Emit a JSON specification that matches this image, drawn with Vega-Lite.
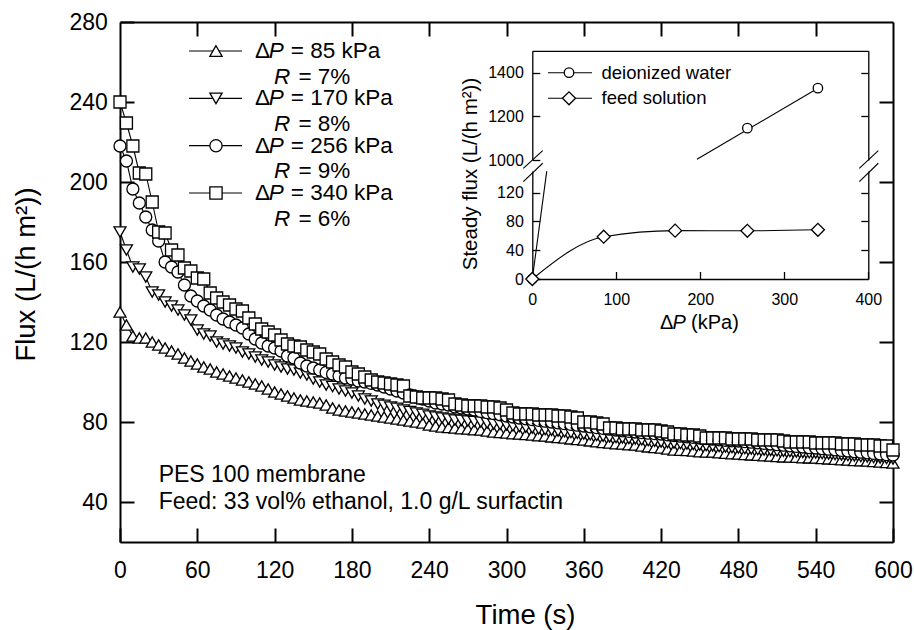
{
"$schema": "https://vega.github.io/schema/vega-lite/v6.json",
"width": 773, "height": 520,
"autosize": {"type": "none"},
"padding": {"left": 120, "top": 22, "right": 21, "bottom": 88},
"background": "white",
"config": {
 "view": {"stroke": null},
 "axis": {"grid": false, "labelFont": "Liberation Sans", "titleFont": "Liberation Sans", "labelColor": "black", "titleColor": "black", "domainColor": "black", "tickColor": "black", "labelFlush": false, "labelOverlap": false, "titleFontWeight": "normal", "format": "d"},
 "text": {"font": "Liberation Sans", "color": "black"}
},
"datasets": {
 "flux": [
{"t":0,"a":135,"b":175,"c":218,"d":240},
{"t":5,"a":128.5,"b":166,"c":210.5,"d":229.5},
{"t":10,"a":123,"b":157.5,"c":196.5,"d":218},
{"t":15,"a":122,"b":156.5,"c":189.5,"d":204.5},
{"t":20,"a":122,"b":152.5,"c":182.5,"d":204},
{"t":25,"a":120,"b":145,"c":176,"d":190},
{"t":30,"a":118.5,"b":143.5,"c":170.5,"d":175},
{"t":35,"a":117,"b":140,"c":160,"d":174.5},
{"t":40,"a":115.5,"b":138,"c":157.5,"d":166},
{"t":45,"a":114,"b":136,"c":155,"d":163.5},
{"t":50,"a":112,"b":133.5,"c":148.5,"d":157},
{"t":55,"a":110.5,"b":131,"c":143,"d":155.5},
{"t":60,"a":109,"b":126,"c":140.5,"d":152},
{"t":65,"a":107.5,"b":124,"c":138,"d":151.5},
{"t":70,"a":106.5,"b":123,"c":136,"d":144.5},
{"t":75,"a":105,"b":120,"c":133.5,"d":142},
{"t":80,"a":104,"b":119,"c":131.5,"d":140},
{"t":85,"a":103,"b":118,"c":130,"d":138.5},
{"t":90,"a":102,"b":117,"c":128.5,"d":136.5},
{"t":95,"a":101,"b":115,"c":127,"d":135.5},
{"t":100,"a":100,"b":114,"c":124,"d":132},
{"t":105,"a":99,"b":112.5,"c":121.5,"d":129},
{"t":110,"a":98,"b":111,"c":119.5,"d":126.5},
{"t":115,"a":96.5,"b":110,"c":118,"d":125},
{"t":120,"a":95,"b":108.5,"c":117,"d":123.5},
{"t":125,"a":94,"b":107.5,"c":115.5,"d":121},
{"t":130,"a":93,"b":106.5,"c":113,"d":119},
{"t":135,"a":92,"b":106,"c":112,"d":118},
{"t":140,"a":91,"b":104.5,"c":109.5,"d":117.5},
{"t":145,"a":90.5,"b":103.5,"c":108,"d":116},
{"t":150,"a":90,"b":101.5,"c":107,"d":115},
{"t":155,"a":89.5,"b":100,"c":106,"d":114},
{"t":160,"a":88.5,"b":98.5,"c":104.8,"d":111.5},
{"t":165,"a":87,"b":97.7,"c":104,"d":110},
{"t":170,"a":86,"b":96.5,"c":103,"d":108.5},
{"t":175,"a":85.5,"b":95.5,"c":102,"d":107.5},
{"t":180,"a":85,"b":94.5,"c":101.5,"d":105},
{"t":185,"a":84.5,"b":93,"c":100.5,"d":104},
{"t":190,"a":84,"b":91.5,"c":100,"d":102.5},
{"t":195,"a":83.5,"b":90.5,"c":99.3,"d":101},
{"t":200,"a":83,"b":89,"c":98.5,"d":100},
{"t":205,"a":82.5,"b":88.3,"c":97.5,"d":99.5},
{"t":210,"a":82,"b":87.5,"c":96.5,"d":99},
{"t":215,"a":81.5,"b":86.8,"c":95.5,"d":98.5},
{"t":220,"a":81,"b":86,"c":94.5,"d":98},
{"t":225,"a":80.5,"b":85.2,"c":93.5,"d":93},
{"t":230,"a":80,"b":84.5,"c":92.5,"d":92.5},
{"t":235,"a":79.5,"b":83.8,"c":91.5,"d":92},
{"t":240,"a":78.5,"b":83,"c":90.5,"d":92},
{"t":245,"a":78,"b":82.5,"c":89.5,"d":92},
{"t":250,"a":77.5,"b":82,"c":89,"d":91.5},
{"t":255,"a":77.3,"b":81.5,"c":88.5,"d":91},
{"t":260,"a":77,"b":81,"c":87.5,"d":89},
{"t":265,"a":76.7,"b":80.8,"c":87,"d":88.5},
{"t":270,"a":76.5,"b":80.5,"c":86.5,"d":88},
{"t":275,"a":76.2,"b":80.2,"c":86,"d":88},
{"t":280,"a":76,"b":80,"c":85.3,"d":88},
{"t":285,"a":75.5,"b":79.5,"c":84.7,"d":87.5},
{"t":290,"a":75,"b":79,"c":84.2,"d":87.5},
{"t":295,"a":74.8,"b":78.8,"c":83.6,"d":87},
{"t":300,"a":74.5,"b":78.5,"c":83,"d":86},
{"t":305,"a":74.2,"b":78.1,"c":82.5,"d":84.5},
{"t":310,"a":74,"b":77.8,"c":82,"d":84},
{"t":315,"a":73.8,"b":77.4,"c":81.6,"d":84},
{"t":320,"a":73.5,"b":77,"c":81.2,"d":84},
{"t":325,"a":73.2,"b":76.6,"c":80.8,"d":83.5},
{"t":330,"a":73,"b":76.2,"c":80.4,"d":83.5},
{"t":335,"a":72.6,"b":75.9,"c":80,"d":83.5},
{"t":340,"a":72.3,"b":75.5,"c":79.6,"d":83},
{"t":345,"a":72,"b":75.1,"c":79.2,"d":83},
{"t":350,"a":71.6,"b":74.7,"c":78.8,"d":82.5},
{"t":355,"a":71.3,"b":74.4,"c":78.4,"d":82},
{"t":360,"a":71,"b":74,"c":78,"d":80},
{"t":365,"a":70.6,"b":73.6,"c":77.6,"d":80},
{"t":370,"a":70.2,"b":73.2,"c":77.2,"d":79.5},
{"t":375,"a":69.8,"b":72.9,"c":76.8,"d":79},
{"t":380,"a":69.5,"b":72.5,"c":76.4,"d":77},
{"t":385,"a":69.2,"b":72.2,"c":76,"d":77},
{"t":390,"a":69,"b":72,"c":75.6,"d":76.5},
{"t":395,"a":68.7,"b":71.8,"c":75.3,"d":76.5},
{"t":400,"a":68.5,"b":71.5,"c":75,"d":76.5},
{"t":405,"a":68,"b":71.1,"c":74.7,"d":76},
{"t":410,"a":67.6,"b":70.7,"c":74.4,"d":76},
{"t":415,"a":67.3,"b":70.4,"c":74.2,"d":76},
{"t":420,"a":67,"b":70,"c":74,"d":75.5},
{"t":425,"a":66.5,"b":69.8,"c":73.6,"d":75},
{"t":430,"a":66,"b":69.5,"c":73.2,"d":74},
{"t":435,"a":65.9,"b":69.2,"c":72.9,"d":74},
{"t":440,"a":65.8,"b":69,"c":72.6,"d":73.5},
{"t":445,"a":65.5,"b":68.8,"c":72.3,"d":73.5},
{"t":450,"a":65.2,"b":68.5,"c":72,"d":73},
{"t":455,"a":65,"b":68.2,"c":71.7,"d":72},
{"t":460,"a":65,"b":68,"c":71.4,"d":72},
{"t":465,"a":64.7,"b":67.7,"c":71.1,"d":72},
{"t":470,"a":64.4,"b":67.5,"c":70.8,"d":72},
{"t":475,"a":64.2,"b":67.2,"c":70.6,"d":71.5},
{"t":480,"a":64,"b":67,"c":70.5,"d":71.5},
{"t":485,"a":63.8,"b":66.7,"c":70.2,"d":71.5},
{"t":490,"a":63.6,"b":66.5,"c":69.9,"d":71.5},
{"t":495,"a":63.4,"b":66.2,"c":69.6,"d":71},
{"t":500,"a":63.2,"b":66,"c":69.3,"d":71},
{"t":505,"a":63,"b":65.8,"c":69,"d":71},
{"t":510,"a":62.8,"b":65.6,"c":68.7,"d":71},
{"t":515,"a":62.6,"b":65.4,"c":68.4,"d":70.5},
{"t":520,"a":62.5,"b":65.2,"c":68.1,"d":70},
{"t":525,"a":62.4,"b":65,"c":67.8,"d":70},
{"t":530,"a":62.2,"b":64.8,"c":67.5,"d":70},
{"t":535,"a":62.1,"b":64.6,"c":67.2,"d":70},
{"t":540,"a":62,"b":64.5,"c":67,"d":69.5},
{"t":545,"a":61.8,"b":64.2,"c":66.7,"d":69.5},
{"t":550,"a":61.6,"b":64,"c":66.4,"d":69.5},
{"t":555,"a":61.4,"b":63.7,"c":66.1,"d":69.5},
{"t":560,"a":61.2,"b":63.5,"c":65.8,"d":69},
{"t":565,"a":61,"b":63.2,"c":65.5,"d":69},
{"t":570,"a":60.8,"b":63,"c":65.2,"d":69},
{"t":575,"a":60.7,"b":62.7,"c":64.9,"d":68.5},
{"t":580,"a":60.5,"b":62.5,"c":64.6,"d":68.5},
{"t":585,"a":60.3,"b":62.2,"c":64.3,"d":68.5},
{"t":590,"a":60,"b":62,"c":64,"d":68},
{"t":595,"a":59.8,"b":61.7,"c":63.7,"d":68},
{"t":600,"a":59.5,"b":61.5,"c":63.5,"d":66}
 ],
 "feed": [{"p":0,"v":0},{"p":85,"v":58.8},{"p":170,"v":67.2},{"p":256,"v":67},{"p":340,"v":68.4}],
 "diLow": [{"p":0,"v":0},{"p":17.2,"v":150}],
 "diUpLine": [{"p":196,"v":1003},{"p":340,"v":1329}],
 "diUpPts": [{"p":256,"v":1146},{"p":340,"v":1329}],
 "leg": [{"k":"a","p":"= 85 kPa","r":"= 7%"},{"k":"b","p":"= 170 kPa","r":"= 8%"},{"k":"c","p":"= 256 kPa","r":"= 9%"},{"k":"d","p":"= 340 kPa","r":"= 6%"}]
},
"layer": [
 {"data": {"name": "flux"}, "transform": [{"fold": ["a","b","c","d"], "as": ["k","f"]}],
  "mark": {"type": "line", "stroke": "black", "strokeWidth": 1.1},
  "encoding": {
   "x": {"field": "t", "type": "quantitative", "scale": {"domain": [0,600], "nice": false, "zero": false},
     "axis": {"orient": "bottom", "values": [0,60,120,180,240,300,360,420,480,540,600], "tickSize": -14, "tickWidth": 2, "domainWidth": 2, "labelPadding": 31, "labelFontSize": 23, "title": "Time (s)", "titleFontSize": 27.5, "titleX": 405, "titleY": 73, "titleAlign": "center", "titleBaseline": "middle"}},
   "y": {"field": "f", "type": "quantitative", "scale": {"domain": [20,280], "nice": false, "zero": false},
     "axis": {"orient": "left", "values": [40,80,120,160,200,240,280], "tickSize": -14, "tickWidth": 2, "domainWidth": 2, "labelPadding": 26.7, "labelFontSize": 23, "title": "Flux (L/(h m²))", "titleFontSize": 27.5, "titleAngle": -90, "titleX": -94, "titleY": 252, "titleAlign": "center", "titleBaseline": "middle"}},
   "detail": {"field": "k"},
   "order": {"field": "t", "type": "quantitative"}
  }},
 {"data": {"name": "flux"}, "transform": [{"fold": ["a","b","c","d"], "as": ["k","f"]}],
  "mark": {"type": "point", "filled": true, "fill": "white", "stroke": "black", "strokeWidth": 1.3, "opacity": 1},
  "encoding": {
   "x": {"field": "t", "type": "quantitative", "scale": {"domain": [0,600], "nice": false, "zero": false}, "axis": null},
   "y": {"field": "f", "type": "quantitative", "scale": {"domain": [20,280], "nice": false, "zero": false}, "axis": null},
   "shape": {"field": "k", "type": "nominal", "scale": {"domain": ["a","b","c","d"], "range": ["triangle-up","triangle-down","circle","square"]}, "legend": null},
   "size": {"field": "k", "type": "nominal", "scale": {"domain": ["a","b","c","d"], "range": [144,144,90,105]}, "legend": null}
  }},
 {"data": {"values": [{}]},
  "mark": {"type": "text", "text": "PES 100 membrane", "align": "left", "baseline": "middle", "fontSize": 23},
  "encoding": {
   "x": {"datum": 30, "type": "quantitative", "scale": {"domain": [0,600], "nice": false, "zero": false}, "axis": null},
   "y": {"datum": 53.5, "type": "quantitative", "scale": {"domain": [20,280], "nice": false, "zero": false}, "axis": null}
  }},
 {"data": {"values": [{}]},
  "mark": {"type": "text", "text": "Feed: 33 vol% ethanol, 1.0 g/L surfactin", "align": "left", "baseline": "middle", "fontSize": 23},
  "encoding": {
   "x": {"datum": 30, "type": "quantitative", "scale": {"domain": [0,600], "nice": false, "zero": false}, "axis": null},
   "y": {"datum": 39.85, "type": "quantitative", "scale": {"domain": [20,280], "nice": false, "zero": false}, "axis": null}
  }},
 {"data": {"values": [{}]},
  "mark": {"type": "point", "opacity": 0},
  "encoding": {
   "x": {"datum": 0, "type": "quantitative", "scale": {"domain": [0,600], "nice": false, "zero": false},
     "axis": {"orient": "top", "values": [60,120,180,240,300,360,420,480,540], "tickSize": -14, "tickWidth": 2, "domainWidth": 2, "labels": false, "title": null}},
   "y": {"datum": 20, "type": "quantitative", "scale": {"domain": [20,280], "nice": false, "zero": false},
     "axis": {"orient": "right", "values": [40,80,120,160,200,240], "tickSize": -14, "tickWidth": 2, "domainWidth": 2, "labels": false, "title": null}}
  }},
 {"data": {"name": "diLow"},
  "mark": {"type": "line", "stroke": "black", "strokeWidth": 1.1},
  "encoding": {
   "x": {"field": "p", "type": "quantitative", "scale": {"domain": [0,400], "range": [412.3,748.3], "nice": false, "zero": false},
     "axis": {"orient": "bottom", "offset": -263, "values": [0,100,200,300,400], "tickSize": -7.5, "tickWidth": 1.3, "domainWidth": 1.3, "labelPadding": 20, "labelFontSize": 16, "title": null}},
   "y": {"field": "v", "type": "quantitative", "scale": {"domain": [0,150], "range": [257,149.1], "nice": false, "zero": false},
     "axis": {"orient": "left", "offset": -412.3, "values": [0,40,80,120], "tickSize": -7.5, "tickWidth": 1.3, "domainWidth": 1.3, "labelPadding": 16.5, "labelFontSize": 16, "title": "Steady flux (L/(h m²))", "titleFontSize": 20.5, "titleAngle": -90, "titleX": -62.3, "titleY": 151.5, "titleAlign": "center", "titleBaseline": "middle"}}
  }},
 {"data": {"name": "feed"},
  "mark": {"type": "line", "stroke": "black", "strokeWidth": 1.1, "interpolate": "monotone"},
  "encoding": {
   "x": {"field": "p", "type": "quantitative", "scale": {"domain": [0,400], "range": [412.3,748.3], "nice": false, "zero": false}, "axis": null},
   "y": {"field": "v", "type": "quantitative", "scale": {"domain": [0,150], "range": [257,149.1], "nice": false, "zero": false}, "axis": null}
  }},
 {"data": {"values": [{"p":0,"v":0}]},
  "mark": {"type": "point", "shape": "circle", "size": 90, "filled": true, "fill": "white", "stroke": "black", "strokeWidth": 1.3, "opacity": 1},
  "encoding": {
   "x": {"field": "p", "type": "quantitative", "scale": {"domain": [0,400], "range": [412.3,748.3], "nice": false, "zero": false}, "axis": null},
   "y": {"field": "v", "type": "quantitative", "scale": {"domain": [0,150], "range": [257,149.1], "nice": false, "zero": false}, "axis": null}
  }},
 {"data": {"name": "feed"},
  "mark": {"type": "point", "shape": "diamond", "size": 169, "filled": true, "fill": "white", "stroke": "black", "strokeWidth": 1.3, "opacity": 1},
  "encoding": {
   "x": {"field": "p", "type": "quantitative", "scale": {"domain": [0,400], "range": [412.3,748.3], "nice": false, "zero": false}, "axis": null},
   "y": {"field": "v", "type": "quantitative", "scale": {"domain": [0,150], "range": [257,149.1], "nice": false, "zero": false}, "axis": null}
  }},
 {"data": {"values": [{}]},
  "mark": {"type": "rule", "stroke": "black", "strokeWidth": 1.1},
  "encoding": {
   "x": {"datum": -10.7, "type": "quantitative", "scale": {"domain": [0,400], "range": [412.3,748.3], "nice": false, "zero": false}, "axis": null},
   "x2": {"datum": 12.4},
   "y": {"datum": 153.9, "type": "quantitative", "scale": {"domain": [0,150], "range": [257,149.1], "nice": false, "zero": false}, "axis": null},
   "y2": {"datum": 178.4}
  }},
 {"data": {"values": [{}]},
  "mark": {"type": "rule", "stroke": "black", "strokeWidth": 1.1},
  "encoding": {
   "x": {"datum": -10.7, "type": "quantitative", "scale": {"domain": [0,400], "range": [412.3,748.3], "nice": false, "zero": false}, "axis": null},
   "x2": {"datum": 12.4},
   "y": {"datum": 135.3, "type": "quantitative", "scale": {"domain": [0,150], "range": [257,149.1], "nice": false, "zero": false}, "axis": null},
   "y2": {"datum": 160.9}
  }},
 {"data": {"values": [{}]},
  "mark": {"type": "rule", "stroke": "black", "strokeWidth": 1.1},
  "encoding": {
   "x": {"datum": 389.3, "type": "quantitative", "scale": {"domain": [0,400], "range": [412.3,748.3], "nice": false, "zero": false}, "axis": null},
   "x2": {"datum": 411.9},
   "y": {"datum": 153.9, "type": "quantitative", "scale": {"domain": [0,150], "range": [257,149.1], "nice": false, "zero": false}, "axis": null},
   "y2": {"datum": 178.4}
  }},
 {"data": {"values": [{}]},
  "mark": {"type": "rule", "stroke": "black", "strokeWidth": 1.1},
  "encoding": {
   "x": {"datum": 389.3, "type": "quantitative", "scale": {"domain": [0,400], "range": [412.3,748.3], "nice": false, "zero": false}, "axis": null},
   "x2": {"datum": 411.9},
   "y": {"datum": 135.3, "type": "quantitative", "scale": {"domain": [0,150], "range": [257,149.1], "nice": false, "zero": false}, "axis": null},
   "y2": {"datum": 160.9}
  }},
 {"data": {"values": [{}]},
  "mark": {"type": "text", "text": "Δ", "align": "left", "baseline": "middle", "fontSize": 20},
  "encoding": {
   "x": {"datum": 152, "type": "quantitative", "scale": {"domain": [0,400], "range": [412.3,748.3], "nice": false, "zero": false}, "axis": null},
   "y": {"datum": -61.2, "type": "quantitative", "scale": {"domain": [0,150], "range": [257,149.1], "nice": false, "zero": false}, "axis": null}
  }},
 {"data": {"values": [{}]},
  "mark": {"type": "text", "text": "P", "fontStyle": "italic", "align": "left", "baseline": "middle", "fontSize": 20},
  "encoding": {
   "x": {"datum": 167, "type": "quantitative", "scale": {"domain": [0,400], "range": [412.3,748.3], "nice": false, "zero": false}, "axis": null},
   "y": {"datum": -61.2, "type": "quantitative", "scale": {"domain": [0,150], "range": [257,149.1], "nice": false, "zero": false}, "axis": null}
  }},
 {"data": {"values": [{}]},
  "mark": {"type": "text", "text": "(kPa)", "align": "left", "baseline": "middle", "fontSize": 20},
  "encoding": {
   "x": {"datum": 189, "type": "quantitative", "scale": {"domain": [0,400], "range": [412.3,748.3], "nice": false, "zero": false}, "axis": null},
   "y": {"datum": -61.2, "type": "quantitative", "scale": {"domain": [0,150], "range": [257,149.1], "nice": false, "zero": false}, "axis": null}
  }},
 {"data": {"values": [{}]},
  "mark": {"type": "point", "opacity": 0},
  "encoding": {
   "x": {"datum": 0, "type": "quantitative", "scale": {"domain": [0,400], "range": [412.3,748.3], "nice": false, "zero": false}, "axis": null},
   "y": {"datum": 0, "type": "quantitative", "scale": {"domain": [0,150], "range": [257,149.1], "nice": false, "zero": false},
     "axis": {"orient": "right", "offset": -24.7, "values": [40,80,120], "tickSize": -7.5, "tickWidth": 1.3, "domainWidth": 1.3, "labels": false, "title": null}}
  }},
 {"data": {"name": "diUpLine"},
  "mark": {"type": "line", "stroke": "black", "strokeWidth": 1.1},
  "encoding": {
   "x": {"field": "p", "type": "quantitative", "scale": {"domain": [0,400], "range": [412.3,748.3], "nice": false, "zero": false},
     "axis": {"orient": "top", "offset": -28.85, "ticks": false, "labels": false, "domainWidth": 1.3, "title": null}},
   "y": {"field": "v", "type": "quantitative", "scale": {"domain": [1000,1500], "range": [138,28.85], "nice": false, "zero": false},
     "axis": {"orient": "left", "offset": -412.3, "values": [1000,1200,1400], "format": "d", "tickSize": -7.5, "tickWidth": 1.3, "domainWidth": 1.3, "labelPadding": 16.5, "labelFontSize": 16, "title": null}}
  }},
 {"data": {"name": "diUpPts"},
  "mark": {"type": "point", "shape": "circle", "size": 90, "filled": true, "fill": "white", "stroke": "black", "strokeWidth": 1.3, "opacity": 1},
  "encoding": {
   "x": {"field": "p", "type": "quantitative", "scale": {"domain": [0,400], "range": [412.3,748.3], "nice": false, "zero": false}, "axis": null},
   "y": {"field": "v", "type": "quantitative", "scale": {"domain": [1000,1500], "range": [138,28.85], "nice": false, "zero": false}, "axis": null}
  }},
 {"data": {"values": [{}]},
  "mark": {"type": "rule", "stroke": "black", "strokeWidth": 1.1},
  "encoding": {
   "x": {"datum": 18.7, "type": "quantitative", "scale": {"domain": [0,400], "range": [412.3,748.3], "nice": false, "zero": false}, "axis": null},
   "x2": {"datum": 71.1},
   "y": {"datum": 1400, "type": "quantitative", "scale": {"domain": [1000,1500], "range": [138,28.85], "nice": false, "zero": false}, "axis": null}
  }},
 {"data": {"values": [{}]},
  "mark": {"type": "rule", "stroke": "black", "strokeWidth": 1.1},
  "encoding": {
   "x": {"datum": 18.7, "type": "quantitative", "scale": {"domain": [0,400], "range": [412.3,748.3], "nice": false, "zero": false}, "axis": null},
   "x2": {"datum": 71.1},
   "y": {"datum": 1282.6, "type": "quantitative", "scale": {"domain": [1000,1500], "range": [138,28.85], "nice": false, "zero": false}, "axis": null}
  }},
 {"data": {"values": [{}]},
  "mark": {"type": "point", "shape": "circle", "size": 90, "filled": true, "fill": "white", "stroke": "black", "strokeWidth": 1.3, "opacity": 1},
  "encoding": {
   "x": {"datum": 43.7, "type": "quantitative", "scale": {"domain": [0,400], "range": [412.3,748.3], "nice": false, "zero": false}, "axis": null},
   "y": {"datum": 1400, "type": "quantitative", "scale": {"domain": [1000,1500], "range": [138,28.85], "nice": false, "zero": false}, "axis": null}
  }},
 {"data": {"values": [{}]},
  "mark": {"type": "point", "shape": "diamond", "size": 169, "filled": true, "fill": "white", "stroke": "black", "strokeWidth": 1.3, "opacity": 1},
  "encoding": {
   "x": {"datum": 43.7, "type": "quantitative", "scale": {"domain": [0,400], "range": [412.3,748.3], "nice": false, "zero": false}, "axis": null},
   "y": {"datum": 1282.6, "type": "quantitative", "scale": {"domain": [1000,1500], "range": [138,28.85], "nice": false, "zero": false}, "axis": null}
  }},
 {"data": {"values": [{}]},
  "mark": {"type": "text", "text": "deionized water", "align": "left", "baseline": "middle", "fontSize": 18.5},
  "encoding": {
   "x": {"datum": 82.4, "type": "quantitative", "scale": {"domain": [0,400], "range": [412.3,748.3], "nice": false, "zero": false}, "axis": null},
   "y": {"datum": 1400, "type": "quantitative", "scale": {"domain": [1000,1500], "range": [138,28.85], "nice": false, "zero": false}, "axis": null}
  }},
 {"data": {"values": [{}]},
  "mark": {"type": "text", "text": "feed solution", "align": "left", "baseline": "middle", "fontSize": 18.5},
  "encoding": {
   "x": {"datum": 82.4, "type": "quantitative", "scale": {"domain": [0,400], "range": [412.3,748.3], "nice": false, "zero": false}, "axis": null},
   "y": {"datum": 1282.6, "type": "quantitative", "scale": {"domain": [1000,1500], "range": [138,28.85], "nice": false, "zero": false}, "axis": null}
  }},
 {"data": {"values": [{}]},
  "mark": {"type": "point", "opacity": 0},
  "encoding": {
   "x": {"datum": 0, "type": "quantitative", "scale": {"domain": [0,400], "range": [412.3,748.3], "nice": false, "zero": false}, "axis": null},
   "y": {"datum": 1000, "type": "quantitative", "scale": {"domain": [1000,1500], "range": [138,28.85], "nice": false, "zero": false},
     "axis": {"orient": "right", "offset": -24.7, "values": [1200,1400], "tickSize": -7.5, "tickWidth": 1.3, "domainWidth": 1.3, "labels": false, "title": null}}
  }},
 {"data": {"name": "leg"},
  "mark": {"type": "rule", "stroke": "black", "strokeWidth": 1.2},
  "encoding": {
   "x": {"datum": 53.6, "type": "quantitative", "scale": {"domain": [0,600], "nice": false, "zero": false}, "axis": null},
   "x2": {"datum": 94.7},
   "y": {"field": "k", "type": "nominal", "scale": {"type": "point", "domain": ["a","b","c","d"], "range": [29,171], "padding": 0}, "axis": null}
  }},
 {"data": {"name": "leg"},
  "mark": {"type": "point", "filled": true, "fill": "white", "stroke": "black", "strokeWidth": 1.3, "opacity": 1},
  "encoding": {
   "x": {"datum": 74.5, "type": "quantitative", "scale": {"domain": [0,600], "nice": false, "zero": false}, "axis": null},
   "y": {"field": "k", "type": "nominal", "scale": {"type": "point", "domain": ["a","b","c","d"], "range": [29,171], "padding": 0}, "axis": null},
   "shape": {"field": "k", "type": "nominal", "scale": {"domain": ["a","b","c","d"], "range": ["triangle-up","triangle-down","circle","square"]}, "legend": null},
   "size": {"field": "k", "type": "nominal", "scale": {"domain": ["a","b","c","d"], "range": [150,150,130,130]}, "legend": null}
  }},
 {"data": {"name": "leg"},
  "mark": {"type": "text", "text": "Δ", "align": "left", "baseline": "middle", "fontSize": 22.5},
  "encoding": {
   "x": {"datum": 104.8, "type": "quantitative", "scale": {"domain": [0,600], "nice": false, "zero": false}, "axis": null},
   "y": {"field": "k", "type": "nominal", "scale": {"type": "point", "domain": ["a","b","c","d"], "range": [29,171], "padding": 0}, "axis": null}
  }},
 {"data": {"name": "leg"},
  "mark": {"type": "text", "text": "P", "fontStyle": "italic", "align": "left", "baseline": "middle", "fontSize": 22.5},
  "encoding": {
   "x": {"datum": 115.5, "type": "quantitative", "scale": {"domain": [0,600], "nice": false, "zero": false}, "axis": null},
   "y": {"field": "k", "type": "nominal", "scale": {"type": "point", "domain": ["a","b","c","d"], "range": [29,171], "padding": 0}, "axis": null}
  }},
 {"data": {"name": "leg"},
  "mark": {"type": "text", "align": "left", "baseline": "middle", "fontSize": 22.5},
  "encoding": {
   "x": {"datum": 132.6, "type": "quantitative", "scale": {"domain": [0,600], "nice": false, "zero": false}, "axis": null},
   "y": {"field": "k", "type": "nominal", "scale": {"type": "point", "domain": ["a","b","c","d"], "range": [29,171], "padding": 0}, "axis": null},
   "text": {"field": "p"}
  }},
 {"data": {"name": "leg"},
  "mark": {"type": "text", "text": "R", "fontStyle": "italic", "align": "left", "baseline": "middle", "fontSize": 22.5, "dy": 25.5},
  "encoding": {
   "x": {"datum": 119.6, "type": "quantitative", "scale": {"domain": [0,600], "nice": false, "zero": false}, "axis": null},
   "y": {"field": "k", "type": "nominal", "scale": {"type": "point", "domain": ["a","b","c","d"], "range": [29,171], "padding": 0}, "axis": null}
  }},
 {"data": {"name": "leg"},
  "mark": {"type": "text", "align": "left", "baseline": "middle", "fontSize": 22.5, "dy": 25.5},
  "encoding": {
   "x": {"datum": 138.5, "type": "quantitative", "scale": {"domain": [0,600], "nice": false, "zero": false}, "axis": null},
   "y": {"field": "k", "type": "nominal", "scale": {"type": "point", "domain": ["a","b","c","d"], "range": [29,171], "padding": 0}, "axis": null},
   "text": {"field": "r"}
  }}
],
"resolve": {"scale": {"x": "independent", "y": "independent", "shape": "independent", "size": "independent"}, "axis": {"x": "independent", "y": "independent"}}
}
